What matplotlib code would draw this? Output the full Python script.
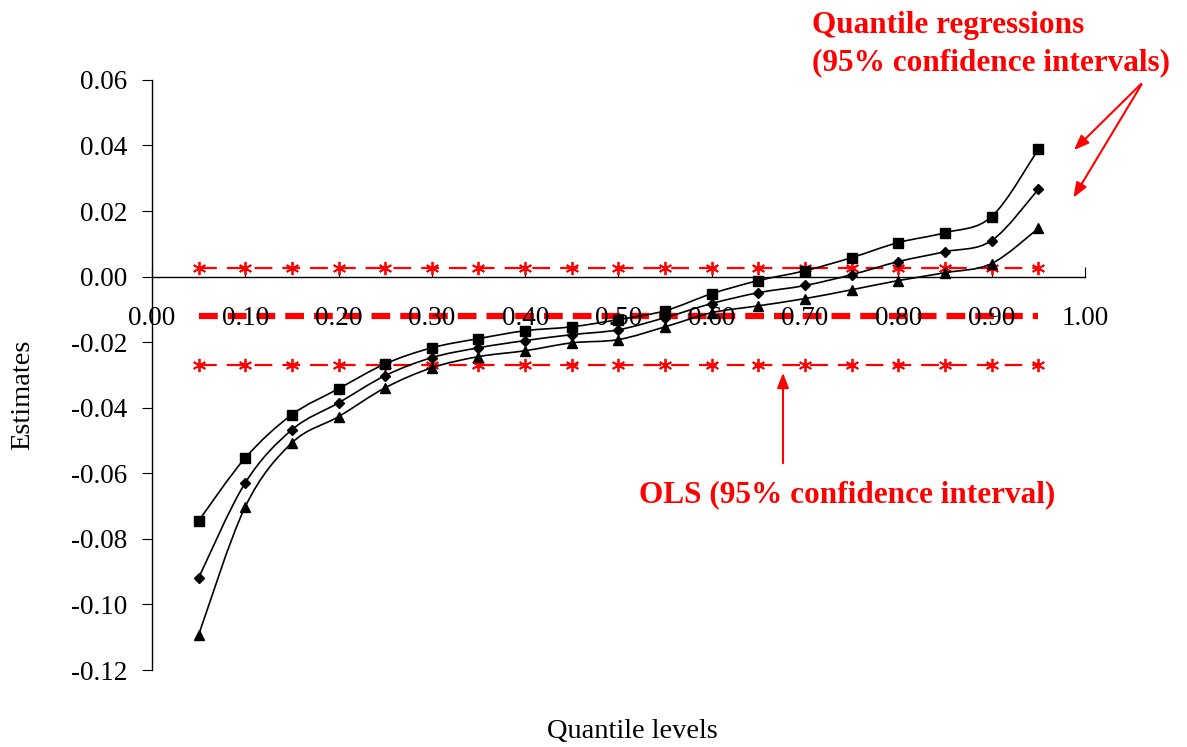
import numpy as np
import matplotlib.pyplot as plt
from matplotlib.path import Path
from matplotlib.patches import PathPatch

plt.rcParams['font.family'] = ['Liberation Serif', 'DejaVu Serif']

quantiles = [0.05, 0.10, 0.15, 0.20, 0.25, 0.30, 0.35, 0.40, 0.45, 0.50,
             0.55, 0.60, 0.65, 0.70, 0.75, 0.80, 0.85, 0.90, 0.95]

qr_upper = [-0.0745, -0.0553, -0.0421, -0.0342, -0.0266, -0.0217, -0.0189, -0.0165, -0.0153, -0.0131,
            -0.0104, -0.0052, -0.0012, 0.0018, 0.0058, 0.0104, 0.0134, 0.0183, 0.0388]
qr_mid = [-0.0919, -0.0629, -0.0467, -0.0385, -0.0302, -0.0247, -0.0217, -0.0195, -0.0177, -0.0162,
          -0.0125, -0.0082, -0.0049, -0.0027, 0.0006, 0.0046, 0.0076, 0.0110, 0.0266]
qr_lower = [-0.1093, -0.0702, -0.0507, -0.0427, -0.0339, -0.0278, -0.0244, -0.0226, -0.0202, -0.0192,
            -0.0153, -0.0110, -0.0089, -0.0067, -0.0040, -0.0012, 0.0012, 0.0040, 0.0147]

ols_upper = 0.0025
ols_est = -0.0120
ols_lower = -0.0268

xticks = [0.0, 0.1, 0.2, 0.3, 0.4, 0.5, 0.6, 0.7, 0.8, 0.9, 1.0]
yticks = [-0.12, -0.10, -0.08, -0.06, -0.04, -0.02, 0.00, 0.02, 0.04, 0.06]


def smooth_path(x, y):
    # excel-style smoothed line: catmull-rom segments as bezier curves
    pts = np.column_stack([x, y])
    n = len(pts)
    verts = [pts[0]]
    codes = [Path.MOVETO]
    for i in range(n - 1):
        p0 = pts[max(i - 1, 0)]
        p1 = pts[i]
        p2 = pts[i + 1]
        p3 = pts[min(i + 2, n - 1)]
        verts += [p1 + (p2 - p0) / 6, p2 - (p3 - p1) / 6, p2]
        codes += [Path.CURVE4] * 3
    return Path(verts, codes)


fig = plt.figure(figsize=(11.87, 7.47), dpi=100)
ax = fig.add_axes([0.128, 0.103, 0.786, 0.790])

# OLS lines
ax.plot([quantiles[0], quantiles[-1]], [ols_est, ols_est], color='red', lw=4.5,
        dashes=(3, 1.6), zorder=1)
for v in [ols_upper, ols_lower]:
    ax.plot(quantiles, [v] * len(quantiles), color='red', lw=1.6, dashes=(8, 4.5),
            marker=(6, 2, 0), markersize=9.5, markeredgewidth=1.3, zorder=2)

# quantile regression curves
for ys, mk, ms in [(qr_upper, 's', 7), (qr_mid, 'D', 5), (qr_lower, '^', 7.5)]:
    ax.add_patch(PathPatch(smooth_path(quantiles, ys), facecolor='none', edgecolor='black',
                           lw=1.2, zorder=3))
    ax.plot(quantiles, ys, ls='none', marker=mk, markersize=ms, color='black', zorder=4)

ax.set_xlim(0, 1)
ax.set_ylim(-0.12, 0.06)
ax.set_xticks(xticks)
ax.set_xticklabels(['%.2f' % v for v in xticks])
ax.set_yticks(yticks)
ax.set_yticklabels(['%.2f' % v for v in yticks])

ax.spines['top'].set_visible(False)
ax.spines['right'].set_visible(False)
ax.spines['bottom'].set_position(('data', 0))
ax.spines['bottom'].set_linewidth(1.0)
ax.spines['left'].set_linewidth(1.0)
ax.tick_params(axis='x', direction='in', length=7, pad=21, labelsize=19.5)
ax.tick_params(axis='y', direction='out', length=7, pad=11, labelsize=19.5)

fig.text(0.533, 0.004, 'Quantile levels', ha='center', va='bottom', fontsize=20.5)
fig.text(0.019, 0.471, 'Estimates', rotation=90, ha='center', va='center', fontsize=20.5)

fig.text(0.684, 0.985, 'Quantile regressions\n(95% confidence intervals)', color='red',
         fontsize=22.5, fontweight='bold', ha='left', va='top', linespacing=1.38)
for end in [(1072, 152), (1072, 200)]:
    ax.annotate('', xy=(end[0], 747 - end[1]), xycoords='figure pixels',
                xytext=(1143, 747 - 82), textcoords='figure pixels',
                arrowprops=dict(arrowstyle='-|>,head_length=0.9,head_width=0.35',
                                color='red', lw=1.5))

ax.annotate('', xy=(783, 747 - 370), xycoords='figure pixels',
            xytext=(783, 747 - 466), textcoords='figure pixels',
            arrowprops=dict(arrowstyle='-|>,head_length=0.9,head_width=0.35',
                            color='red', lw=1.5))
fig.text(0.7136, 0.338, 'OLS (95% confidence interval)', color='red', fontsize=22.5,
         fontweight='bold', ha='center', va='center')

fig.savefig('out.png', dpi=100)
